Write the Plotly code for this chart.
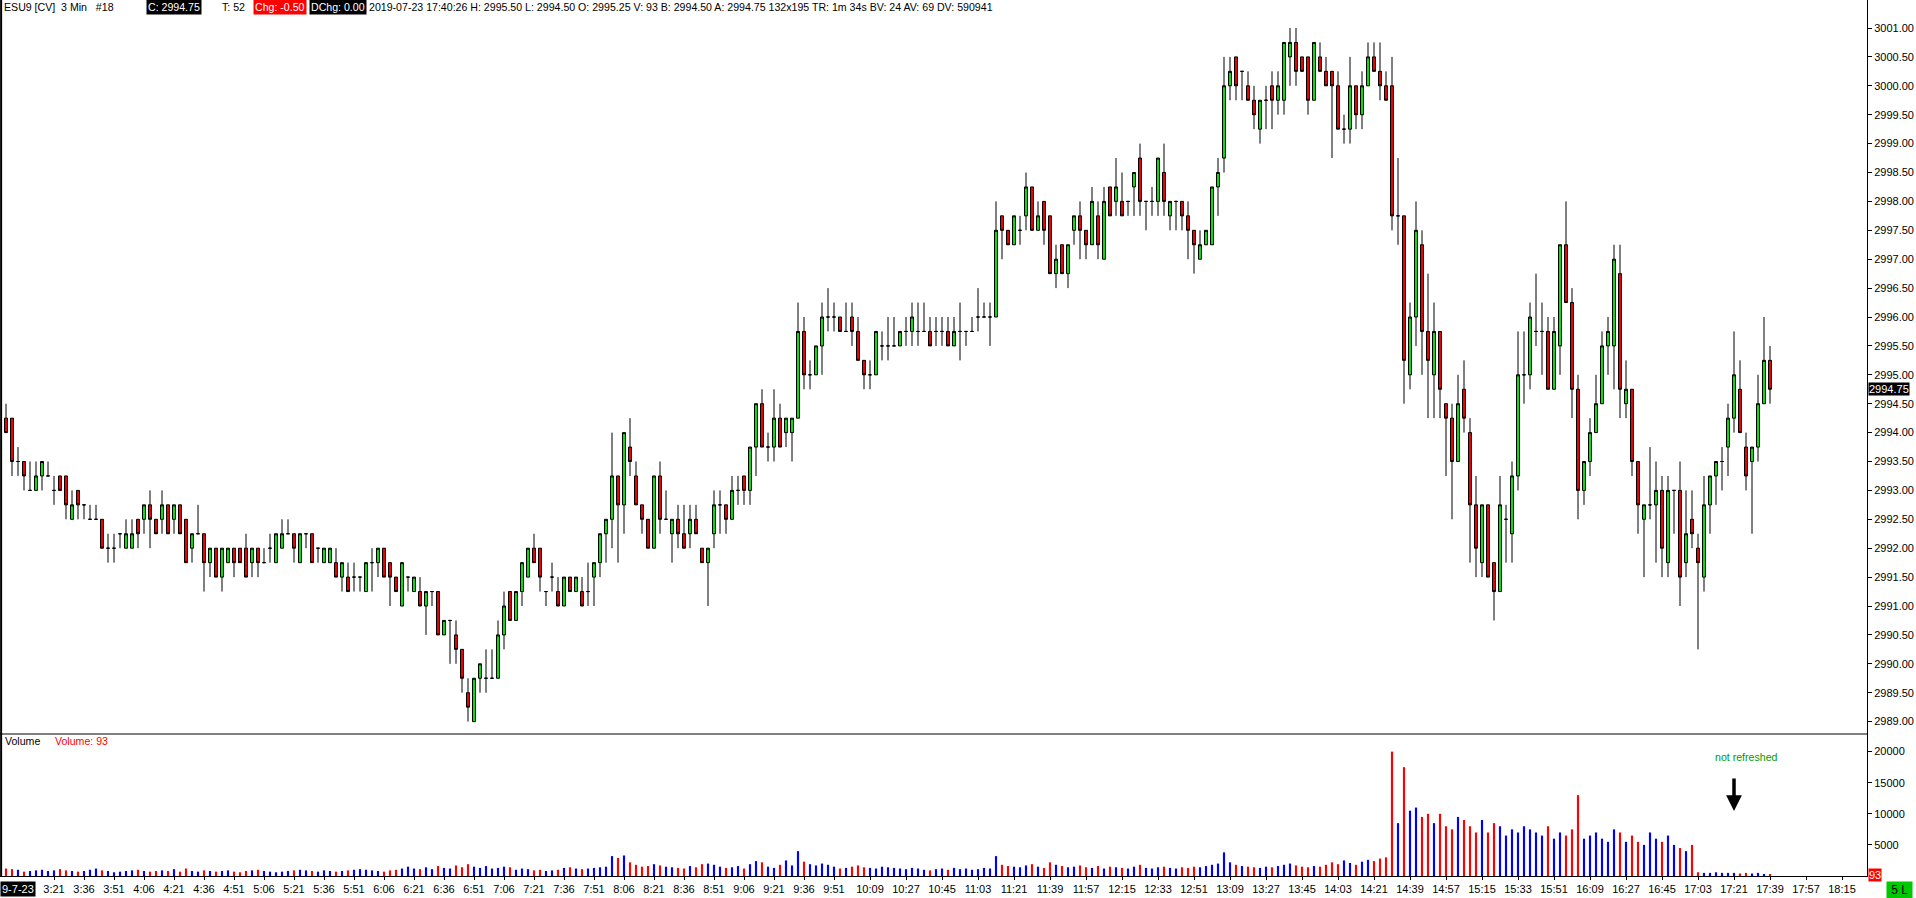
import plotly.graph_objects as go
import pandas as pd

# ---------------- data ----------------
bar_open = [
    2994.25, 2994.25, 2993.5, 2993.5, 2993.0, 2993.0, 2993.25, 2993.25, 2993.0, 2993.25,
    2993.25, 2992.5, 2993.0, 2992.75, 2992.5, 2992.5, 2992.5, 2992.0, 2992.0, 2992.25,
    2992.0, 2992.0, 2992.5, 2992.5, 2992.75, 2992.5, 2992.5, 2992.75, 2992.5, 2992.75,
    2992.5, 2992.0, 2992.25, 2992.25, 2991.75, 2992.0, 2991.5, 2991.75, 2992.0, 2992.0,
    2992.0, 2991.75, 2992.0, 2991.75, 2992.0, 2991.75, 2992.0, 2992.25, 2992.25, 2991.75,
    2992.25, 2992.25, 2992.0, 2991.75, 2991.75, 2991.75, 2991.5, 2991.5, 2991.5, 2991.5,
    2991.25, 2991.75, 2991.75, 2992.0, 2991.75, 2991.5, 2991.0, 2991.5, 2991.25, 2991.25,
    2991.0, 2991.25, 2991.25, 2990.5, 2990.75, 2990.5, 2990.25, 2989.5, 2989.0, 2989.75,
    2989.75, 2989.75, 2989.75, 2990.5, 2991.25, 2990.75, 2991.25, 2991.5, 2992.0, 2992.0,
    2991.25, 2991.5, 2991.25, 2991.0, 2991.5, 2991.25, 2991.25, 2991.25, 2991.5, 2991.75,
    2992.25, 2992.5, 2993.25, 2992.75, 2993.75, 2993.25, 2992.75, 2992.5, 2992.0, 2993.25,
    2992.5, 2992.25, 2992.5, 2992.25, 2992.25, 2992.5, 2992.0, 2991.75, 2992.25, 2992.75,
    2992.75, 2992.5, 2993.0, 2993.25, 2993.0, 2993.75, 2994.5, 2993.75, 2993.75, 2994.25,
    2994.0, 2994.0, 2994.25, 2995.75, 2995.0, 2995.0, 2995.5, 2996.0, 2996.0, 2996.0,
    2995.75, 2996.0, 2995.75, 2995.25, 2995.0, 2995.0, 2995.5, 2995.5, 2995.5, 2995.5,
    2995.75, 2995.75, 2995.75, 2995.75, 2995.75, 2995.75, 2995.75, 2995.75, 2995.5, 2995.75,
    2995.75, 2995.75, 2996.0, 2996.0, 2996.0, 2996.0, 2997.75, 2997.5, 2997.25, 2997.5,
    2997.75, 2998.25, 2997.5, 2998.0, 2997.75, 2996.75, 2997.25, 2996.75, 2997.5, 2997.75,
    2997.5, 2997.25, 2997.75, 2997.0, 2998.25, 2998.0, 2998.0, 2998.0, 2998.25, 2998.75,
    2998.0, 2998.0, 2998.0, 2998.5, 2997.75, 2998.0, 2998.0, 2997.75, 2997.5, 2997.0,
    2997.25, 2997.25, 2998.25, 2998.75, 3000.0, 3000.5, 3000.25, 3000.0, 2999.75, 2999.25,
    2999.75, 3000.0, 2999.75, 2999.75, 3000.5, 3000.75, 3000.5, 3000.5, 2999.75, 3000.5,
    3000.25, 3000.25, 3000.0, 2999.25, 2999.25, 3000.0, 2999.5, 3000.0, 3000.5, 3000.25,
    3000.0, 3000.0, 2997.75, 2997.75, 2995.0, 2996.0, 2997.25, 2995.75, 2995.0, 2995.75,
    2994.5, 2994.25, 2993.5, 2994.75, 2994.0, 2992.75, 2991.75, 2992.75, 2991.75, 2991.25,
    2992.5, 2992.25, 2993.25, 2995.0, 2995.0, 2995.75, 2995.75, 2995.75, 2994.75, 2995.5,
    2997.25, 2996.25, 2994.75, 2993.0, 2993.5, 2994.0, 2994.5, 2995.5, 2995.5, 2996.75,
    2994.5, 2994.75, 2993.5, 2992.5, 2992.75, 2992.75, 2993.0, 2991.75, 2993.0, 2993.0,
    2991.75, 2992.5, 2992.0, 2991.5, 2992.75, 2993.25, 2993.5, 2993.75, 2994.25, 2994.75,
    2993.75, 2993.5, 2993.75, 2994.5, 2995.25,
]
bar_high = [
    2994.5, 2994.25, 2993.75, 2993.5, 2993.5, 2993.5, 2993.5, 2993.5, 2993.25, 2993.25,
    2993.25, 2993.0, 2993.0, 2992.75, 2992.75, 2992.75, 2992.5, 2992.25, 2992.25, 2992.25,
    2992.5, 2992.5, 2992.5, 2992.75, 2993.0, 2992.5, 2993.0, 2992.75, 2992.75, 2992.75,
    2992.5, 2992.25, 2992.75, 2992.25, 2992.0, 2992.0, 2992.0, 2992.0, 2992.0, 2992.0,
    2992.25, 2992.0, 2992.0, 2992.0, 2992.25, 2992.25, 2992.5, 2992.5, 2992.25, 2992.25,
    2992.25, 2992.25, 2992.0, 2992.0, 2992.0, 2992.0, 2991.75, 2991.75, 2991.75, 2991.5,
    2991.75, 2992.0, 2992.0, 2992.0, 2991.75, 2991.5, 2991.75, 2991.5, 2991.5, 2991.5,
    2991.25, 2991.25, 2991.25, 2990.75, 2990.75, 2990.75, 2990.25, 2989.75, 2989.75, 2990.0,
    2990.25, 2990.25, 2990.75, 2991.25, 2991.25, 2991.25, 2991.75, 2992.0, 2992.25, 2992.0,
    2991.25, 2991.75, 2991.5, 2991.5, 2991.5, 2991.5, 2991.5, 2991.75, 2991.75, 2992.25,
    2992.5, 2994.0, 2993.25, 2994.0, 2994.25, 2993.5, 2992.75, 2992.5, 2993.25, 2993.5,
    2993.0, 2992.5, 2992.75, 2992.75, 2992.75, 2992.75, 2992.0, 2992.0, 2993.0, 2993.0,
    2992.75, 2993.25, 2993.25, 2993.25, 2993.75, 2994.5, 2994.75, 2994.0, 2994.75, 2994.5,
    2994.25, 2994.25, 2996.25, 2996.0, 2995.25, 2995.5, 2996.25, 2996.5, 2996.25, 2996.0,
    2996.25, 2996.25, 2996.0, 2995.25, 2995.25, 2995.75, 2995.75, 2996.0, 2996.0, 2995.75,
    2996.0, 2996.25, 2996.25, 2996.25, 2996.0, 2996.0, 2996.0, 2996.0, 2996.0, 2996.25,
    2995.75, 2996.0, 2996.5, 2996.25, 2996.25, 2998.0, 2997.75, 2997.5, 2997.75, 2997.75,
    2998.5, 2998.25, 2998.0, 2998.0, 2997.75, 2997.25, 2997.25, 2997.25, 2997.75, 2998.0,
    2997.5, 2998.25, 2998.0, 2998.25, 2998.25, 2998.75, 2998.5, 2998.0, 2998.5, 2999.0,
    2998.0, 2998.25, 2998.75, 2999.0, 2998.0, 2998.0, 2998.0, 2998.0, 2997.5, 2997.5,
    2997.5, 2998.25, 2998.75, 3000.5, 3000.5, 3000.5, 3000.25, 3000.25, 3000.0, 2999.75,
    3000.0, 3000.25, 3000.25, 3000.75, 3001.0, 3001.0, 3000.5, 3000.5, 3000.75, 3000.75,
    3000.5, 3000.25, 3000.25, 2999.5, 3000.5, 3000.0, 3000.25, 3000.75, 3000.75, 3000.75,
    3000.25, 3000.5, 2998.75, 2997.75, 2996.25, 2998.0, 2997.5, 2996.75, 2996.25, 2995.75,
    2994.5, 2994.5, 2995.0, 2995.25, 2994.25, 2993.25, 2992.75, 2992.75, 2991.75, 2993.25,
    2992.75, 2993.5, 2995.75, 2995.75, 2996.25, 2996.75, 2996.25, 2996.0, 2996.0, 2997.25,
    2998.0, 2996.5, 2995.0, 2993.5, 2994.25, 2995.0, 2995.75, 2996.0, 2997.25, 2997.25,
    2995.25, 2994.75, 2993.5, 2992.75, 2993.75, 2993.5, 2993.25, 2993.25, 2993.0, 2993.5,
    2993.0, 2993.0, 2992.25, 2993.25, 2993.25, 2993.5, 2993.75, 2994.5, 2995.75, 2995.25,
    2994.0, 2993.75, 2995.0, 2996.0, 2995.5,
]
bar_low = [
    2994.0, 2993.25, 2993.25, 2993.0, 2993.0, 2993.0, 2993.0, 2993.25, 2992.75, 2993.0,
    2992.5, 2992.5, 2992.5, 2992.5, 2992.5, 2992.5, 2992.0, 2991.75, 2991.75, 2992.0,
    2992.0, 2992.0, 2992.0, 2992.25, 2992.0, 2992.25, 2992.25, 2992.25, 2992.25, 2992.25,
    2991.75, 2991.75, 2992.25, 2991.25, 2991.5, 2991.5, 2991.25, 2991.75, 2991.5, 2991.75,
    2991.5, 2991.5, 2991.5, 2991.75, 2991.75, 2991.75, 2992.0, 2992.25, 2991.75, 2991.75,
    2992.0, 2991.75, 2991.75, 2991.75, 2991.75, 2991.5, 2991.25, 2991.25, 2991.25, 2991.25,
    2991.25, 2991.25, 2991.5, 2991.5, 2991.0, 2991.25, 2991.0, 2991.25, 2991.25, 2991.0,
    2990.5, 2991.0, 2990.5, 2990.5, 2990.0, 2990.0, 2989.5, 2989.0, 2989.0, 2989.5,
    2989.5, 2989.75, 2989.75, 2990.25, 2990.75, 2990.75, 2991.0, 2991.5, 2991.75, 2991.25,
    2991.0, 2991.25, 2991.0, 2991.0, 2991.25, 2991.25, 2991.0, 2991.0, 2991.0, 2991.5,
    2991.75, 2992.0, 2991.75, 2992.25, 2993.25, 2992.75, 2992.25, 2992.0, 2992.0, 2992.25,
    2992.5, 2991.75, 2992.0, 2992.0, 2992.0, 2992.25, 2991.75, 2991.0, 2992.0, 2992.25,
    2992.25, 2992.5, 2992.75, 2992.75, 2992.75, 2993.25, 2993.75, 2993.5, 2993.5, 2993.75,
    2993.75, 2993.5, 2994.25, 2994.75, 2994.75, 2995.0, 2995.0, 2995.75, 2995.75, 2995.75,
    2995.75, 2995.5, 2995.25, 2994.75, 2994.75, 2995.0, 2995.25, 2995.25, 2995.5, 2995.5,
    2995.5, 2995.5, 2995.5, 2995.75, 2995.5, 2995.5, 2995.5, 2995.5, 2995.5, 2995.25,
    2995.5, 2995.75, 2995.75, 2996.0, 2995.5, 2996.0, 2997.0, 2997.25, 2997.25, 2997.25,
    2997.5, 2997.5, 2997.5, 2997.25, 2996.75, 2996.5, 2996.75, 2996.5, 2997.25, 2997.0,
    2997.0, 2997.25, 2997.0, 2997.0, 2997.75, 2997.75, 2997.75, 2997.75, 2997.75, 2997.75,
    2997.5, 2997.75, 2997.75, 2997.75, 2997.5, 2997.5, 2997.5, 2997.0, 2996.75, 2997.0,
    2997.25, 2997.25, 2997.75, 2998.5, 2999.75, 2999.75, 2999.75, 2999.75, 2999.25, 2999.0,
    2999.25, 2999.25, 2999.5, 2999.5, 3000.0, 3000.0, 3000.25, 2999.5, 2999.75, 3000.25,
    3000.0, 2998.75, 2999.25, 2999.0, 2999.0, 2999.25, 2999.25, 3000.0, 3000.25, 2999.75,
    2999.75, 2997.5, 2997.25, 2994.5, 2994.75, 2995.5, 2995.0, 2994.25, 2994.25, 2994.25,
    2993.25, 2992.5, 2993.5, 2994.0, 2991.75, 2991.5, 2991.5, 2991.5, 2990.75, 2991.25,
    2991.75, 2991.75, 2993.0, 2994.5, 2994.75, 2995.5, 2995.0, 2994.75, 2994.75, 2995.0,
    2996.25, 2994.25, 2992.5, 2992.75, 2993.25, 2994.0, 2994.5, 2995.0, 2994.75, 2994.25,
    2994.25, 2993.25, 2992.25, 2991.5, 2992.5, 2991.75, 2991.5, 2991.5, 2992.25, 2991.0,
    2991.5, 2992.0, 2990.25, 2991.25, 2992.25, 2992.75, 2993.0, 2993.25, 2994.0, 2994.0,
    2993.0, 2992.25, 2993.5, 2994.5, 2994.5,
]
bar_close = [
    2994.0, 2993.5, 2993.5, 2993.25, 2993.0, 2993.25, 2993.5, 2993.25, 2993.0, 2993.0,
    2992.75, 2992.75, 2992.75, 2992.75, 2992.5, 2992.5, 2992.0, 2992.0, 2992.0, 2992.25,
    2992.25, 2992.25, 2992.25, 2992.75, 2992.5, 2992.25, 2992.75, 2992.25, 2992.75, 2992.25,
    2991.75, 2992.25, 2992.25, 2991.75, 2992.0, 2991.5, 2992.0, 2992.0, 2991.75, 2991.75,
    2991.5, 2992.0, 2991.75, 2991.75, 2992.0, 2992.25, 2992.25, 2992.25, 2992.0, 2992.25,
    2992.25, 2991.75, 2992.0, 2992.0, 2992.0, 2991.5, 2991.75, 2991.25, 2991.5, 2991.5,
    2991.75, 2991.75, 2992.0, 2991.5, 2991.5, 2991.25, 2991.75, 2991.5, 2991.5, 2991.0,
    2991.25, 2991.25, 2990.5, 2990.75, 2990.75, 2990.25, 2989.75, 2989.25, 2989.75, 2990.0,
    2989.75, 2989.75, 2990.5, 2991.0, 2990.75, 2991.25, 2991.75, 2992.0, 2991.75, 2991.5,
    2991.25, 2991.5, 2991.0, 2991.5, 2991.25, 2991.5, 2991.0, 2991.25, 2991.75, 2992.25,
    2992.5, 2993.25, 2992.75, 2994.0, 2993.5, 2992.75, 2992.5, 2992.0, 2993.25, 2992.5,
    2992.5, 2992.5, 2992.25, 2992.0, 2992.5, 2992.25, 2991.75, 2992.0, 2992.75, 2992.75,
    2992.5, 2993.0, 2993.0, 2993.0, 2993.75, 2994.5, 2993.75, 2993.75, 2994.25, 2993.75,
    2994.25, 2994.25, 2995.75, 2995.0, 2995.0, 2995.5, 2996.0, 2996.0, 2996.0, 2995.75,
    2995.75, 2995.75, 2995.25, 2995.0, 2995.0, 2995.75, 2995.5, 2995.5, 2995.5, 2995.75,
    2995.75, 2996.0, 2995.75, 2995.75, 2995.5, 2995.75, 2995.75, 2995.5, 2995.75, 2995.75,
    2995.75, 2995.75, 2996.0, 2996.0, 2996.0, 2997.5, 2997.5, 2997.25, 2997.75, 2997.5,
    2998.25, 2997.5, 2997.75, 2997.5, 2996.75, 2997.0, 2996.75, 2997.25, 2997.75, 2997.5,
    2997.25, 2998.0, 2997.25, 2998.0, 2997.75, 2998.25, 2997.75, 2998.0, 2998.5, 2998.0,
    2998.0, 2998.0, 2998.75, 2998.0, 2998.0, 2998.0, 2997.75, 2997.5, 2997.25, 2997.25,
    2997.5, 2998.25, 2998.5, 3000.0, 3000.25, 3000.0, 3000.25, 2999.75, 2999.5, 2999.75,
    2999.75, 2999.75, 3000.0, 3000.75, 3000.75, 3000.25, 3000.25, 2999.75, 3000.75, 3000.25,
    3000.0, 3000.0, 2999.25, 2999.25, 3000.0, 2999.5, 3000.0, 3000.5, 3000.25, 3000.0,
    2999.75, 2997.75, 2997.75, 2995.25, 2996.0, 2997.5, 2995.75, 2995.25, 2995.75, 2994.75,
    2994.25, 2993.5, 2994.5, 2994.25, 2992.75, 2992.0, 2992.75, 2991.5, 2991.25, 2992.75,
    2992.5, 2993.25, 2995.0, 2995.0, 2996.0, 2995.75, 2995.75, 2994.75, 2995.75, 2997.25,
    2996.25, 2994.75, 2993.0, 2993.5, 2994.0, 2994.5, 2995.5, 2995.75, 2997.0, 2994.75,
    2994.75, 2993.5, 2992.75, 2992.75, 2992.75, 2993.0, 2992.0, 2993.0, 2993.0, 2991.5,
    2992.25, 2992.25, 2991.75, 2992.75, 2993.25, 2993.5, 2993.5, 2994.25, 2995.0, 2994.0,
    2993.25, 2993.75, 2994.5, 2995.25, 2994.75,
]
volume = [
    1200, 1100, 1000, 700, 800, 900, 1000, 800, 900, 1100,
    900, 800, 700, 800, 1000, 1200, 900, 800, 600, 700,
    800, 900, 1000, 800, 700, 800, 900, 800, 1100, 700,
    1200, 800, 700, 900, 800, 700, 800, 900, 700, 600,
    800, 900, 1000, 800, 700, 600, 700, 800, 900, 1000,
    900, 800, 700, 900, 800, 700, 800, 900, 1000, 1100,
    1000, 900, 800, 700, 900, 1000, 1200, 1500, 1200, 1100,
    1400, 1100, 1600, 1300, 1200, 1700, 1400, 1900, 1500, 1300,
    1600, 1200, 1300, 1500, 1400, 1000, 1200, 1100, 900, 1000,
    800, 900, 1000, 1300, 1400, 1200, 1100, 1200, 1300, 1400,
    1500, 3200, 2900, 3300, 2200, 1800, 1500, 1600, 1900, 1700,
    1500, 1400, 1300, 1200, 1600, 1400, 1900, 2000, 1800, 1500,
    1300, 1400, 1600, 1200, 1900, 2400, 2200, 1500, 1300, 1800,
    2500, 1700, 4000, 2300, 1900, 1700, 2000, 1800, 1500, 1200,
    1300, 1500, 1700, 1400, 1300, 1200, 1500, 1400, 1300, 1200,
    1100, 1300, 1200, 1000, 900, 1100, 1200, 1000, 1300, 1100,
    1200, 1000, 1100, 1300, 1200, 3200, 1800, 1600, 1500, 1400,
    1700, 1900, 1500, 1300, 2200, 1800, 1600, 1400, 1500, 1700,
    1400, 1300, 1600, 1200, 1500, 1400, 1300, 1200, 1500, 1800,
    1300, 1200, 1400, 1500, 1300, 1200, 1400, 1300, 1500, 1400,
    1600, 1800, 2000, 3800, 2200, 1800, 1600, 1500, 1400, 1300,
    1500, 1400, 1600, 1800, 2000, 1700, 1500, 1400, 1600, 1500,
    1800, 2200, 1900, 2500, 2100, 1800, 2300, 2600, 2400, 2800,
    3000, 20000, 8500, 17500, 10500, 11000, 9500, 10000, 8500, 10000,
    8000, 7500, 9500, 9000, 8000, 7000, 9000, 7000, 8500, 8000,
    6500, 7500, 7000, 8000, 7500, 7000, 6500, 8000, 6000, 7000,
    6500, 7500, 13000, 6000, 6500, 7000, 6000, 5500, 7500, 7000,
    5500, 6500, 5500, 5000, 7000, 6000, 5500, 6500, 5000, 4500,
    4000, 5000, 600, 500, 500, 600, 500, 500, 500, 400,
    500, 400, 500, 300, 200,
]
time_labels = ["3:21", "3:36", "3:51", "4:06", "4:21", "4:36", "4:51", "5:06", "5:21",
               "5:36", "5:51", "6:06", "6:21", "6:36", "6:51", "7:06", "7:21", "7:36",
               "7:51", "8:06", "8:21", "8:36", "8:51", "9:06", "9:21", "9:36", "9:51",
               "10:09", "10:27", "10:45", "11:03", "11:21", "11:39", "11:57", "12:15",
               "12:33", "12:51", "13:09", "13:27", "13:45", "14:03", "14:21", "14:39",
               "14:57", "15:15", "15:33", "15:51", "16:09", "16:27", "16:45", "17:03",
               "17:21", "17:39", "17:57", "18:15"]
price_ticks = [2989.0 + 0.5 * k for k in range(25)]
volume_ticks = [5000, 10000, 15000, 20000]

# ---------------- geometry ----------------
FIG_W, FIG_H = 1916, 898
PLOT_W, PLOT_H = 1867, 876          # plot area (l=0, t=0)
SPLIT = (PLOT_H - 734) / PLOT_H     # volume pane / price pane boundary


def px(x):
    return x / PLOT_W


def py(y):
    return (PLOT_H - y) / PLOT_H


times = pd.date_range("2019-07-23 02:57", periods=len(bar_open), freq="3min")
tickvals = [pd.Timestamp("2019-07-23 " + t) for t in time_labels]
x_start = pd.Timestamp("2019-07-23 02:54:00")
x_end = x_start + pd.Timedelta(minutes=3 * PLOT_W / 6.0)

vol_colors = ["#0000ff" if c >= o else "#ff0000" for o, c in zip(bar_open, bar_close)]

FONT = "Liberation Sans"

fig = go.Figure()
fig.add_trace(go.Candlestick(
    x=times, open=bar_open, high=bar_high, low=bar_low, close=bar_close,
    increasing=dict(line=dict(color="black", width=1), fillcolor="#00e600"),
    decreasing=dict(line=dict(color="black", width=1), fillcolor="#ee0000"),
    whiskerwidth=0, xaxis="x", yaxis="y", hoverinfo="skip", showlegend=False,
))
fig.add_trace(go.Bar(
    x=times, y=volume, marker=dict(color=vol_colors, line=dict(width=0)),
    width=65000, xaxis="x", yaxis="y2", hoverinfo="skip", showlegend=False,
))

axis_font = dict(family=FONT, size=11, color="black")
fig.update_layout(
    width=FIG_W, height=FIG_H,
    margin=dict(l=0, r=FIG_W - PLOT_W, t=0, b=FIG_H - PLOT_H),
    paper_bgcolor="white", plot_bgcolor="white",
    showlegend=False, boxgap=0.28,
    xaxis=dict(
        type="date", range=[x_start, x_end], anchor="y2", domain=[0, 1],
        tickvals=tickvals, ticktext=time_labels, tickfont=axis_font,
        ticks="outside", ticklen=3, tickcolor="black",
        showline=True, linecolor="black", linewidth=1,
        showgrid=False, zeroline=False, rangeslider=dict(visible=False),
        fixedrange=True,
    ),
    yaxis=dict(
        domain=[SPLIT, 1], side="right", anchor="x",
        range=[3001 - 706 / 57.8, 3001 + 28 / 57.8],
        tickvals=price_ticks, ticktext=["%.2f" % v for v in price_ticks],
        tickfont=axis_font, ticks="outside", ticklen=4, tickcolor="black",
        showline=True, linecolor="black", linewidth=1,
        showgrid=False, zeroline=False,
    ),
    yaxis2=dict(
        domain=[0, SPLIT], side="right", anchor="x",
        range=[0, 142 / 31.1 * 5000],
        tickvals=volume_ticks, ticktext=[str(v) for v in volume_ticks],
        tickfont=axis_font, ticks="outside", ticklen=4, tickcolor="black",
        showline=True, linecolor="black", linewidth=1,
        showgrid=False, zeroline=False,
    ),
)

shapes = [
    dict(type="line", xref="paper", yref="paper", x0=0, x1=1, y0=SPLIT, y1=SPLIT,
         line=dict(color="black", width=1.2)),
    dict(type="line", xref="paper", yref="paper", x0=0.0006, x1=0.0006, y0=0, y1=1,
         line=dict(color="black", width=2)),
]
fig.update_layout(shapes=shapes)

HSIZE = 10.6
HF = dict(family=FONT, size=HSIZE, color="black")
ann = []


def label(x, y, text, font, bg=None, xanchor="left", yanchor="middle", xref="paper",
          yref="paper", pad=0):
    d = dict(x=x, y=y, xref=xref, yref=yref, text=text, showarrow=False,
             xanchor=xanchor, yanchor=yanchor, font=font, borderpad=pad)
    if bg:
        d["bgcolor"] = bg
    ann.append(d)


white = dict(family=FONT, size=HSIZE, color="white")
label(px(3), py(7), "ESU9 [CV]&nbsp;&nbsp;3 Min&nbsp;&nbsp;&nbsp;#18", HF)
label(px(146), py(7), "C: 2994.75", white, bg="black", pad=1)
label(px(221), py(7), "T: 52", HF)
label(px(253), py(7), "Chg: -0.50", white, bg="#ff0000", pad=1)
label(px(309), py(7), "DChg: 0.00", white, bg="black", pad=1)
label(px(368), py(7),
      "2019-07-23 17:40:26 H: 2995.50 L: 2994.50 O: 2995.25 V: 93 B: 2994.50 A: 2994.75 "
      "132x195 TR: 1m 34s BV: 24 AV: 69 DV: 590941", HF)

# volume pane title
label(px(4), py(741), "Volume", dict(family=FONT, size=HSIZE, color="black"))
label(px(54), py(741), "Volume: 93", dict(family=FONT, size=HSIZE, color="#ff0000"))

# current price marker
label(1.0005, 2994.75, "2994.75", dict(family=FONT, size=11, color="white"), bg="black",
      yref="y")
# current volume marker
label(1.0005, 93, "93", dict(family=FONT, size=11, color="white"), bg="#ff0000", yref="y2")
# date label at the left of time axis (its left part is hidden behind the edge)
label(px(0), py(889), "9-7-23", dict(family=FONT, size=11, color="white"), bg="black",
      xanchor="left", pad=1)
# bottom-right status
label(px(1886), py(890), "&nbsp;5 L&nbsp;", dict(family=FONT, size=12, color="black"),
      bg="#00c800", pad=1)

# note + arrow
label(px(1746), py(757), "not refreshed", dict(family=FONT, size=HSIZE, color="#009a00"),
      xanchor="center")
ann.append(dict(x=px(1734), y=py(811), xref="paper", yref="paper", text="",
                showarrow=True, ax=0, ay=-34, arrowcolor="black", arrowwidth=3.5,
                arrowhead=2, arrowsize=0.9))

fig.update_layout(annotations=ann)
fig.write_html(
    "out.html",
    config={"displayModeBar": False},
    post_script="document.body.style.margin='0px';"
                "document.body.style.overflow='hidden';",
)
